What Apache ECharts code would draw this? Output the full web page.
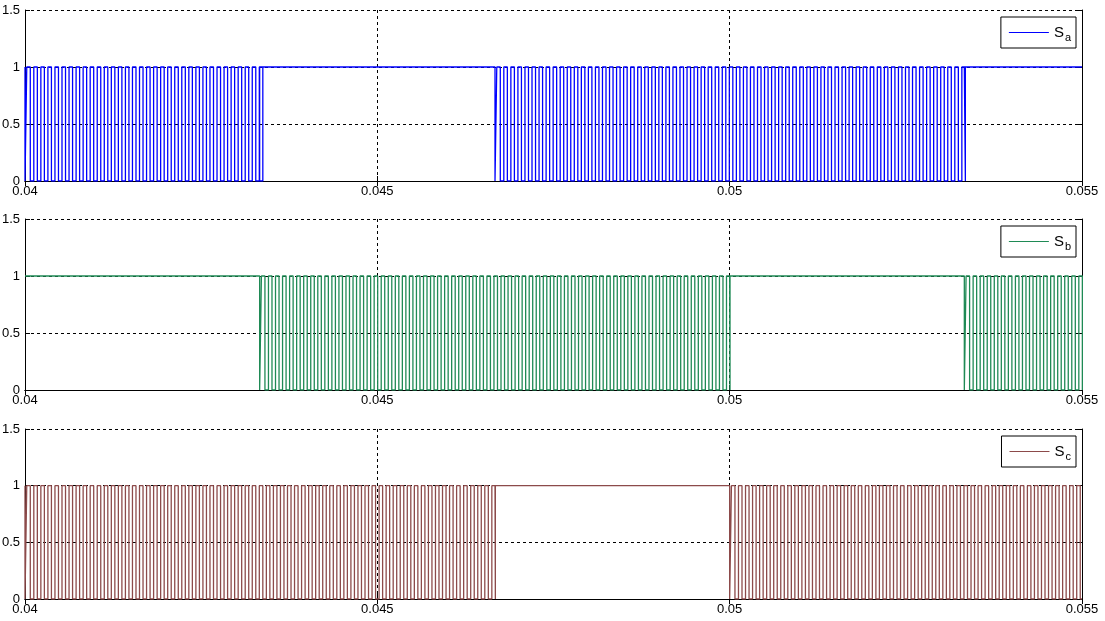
<!DOCTYPE html>
<html>
<head>
<meta charset="utf-8">
<script src="https://cdn.jsdelivr.net/npm/echarts@6/dist/echarts.min.js"></script>
<style>
  html, body { margin: 0; padding: 0; background: #fff; }
  #main { width: 1105px; height: 621px; }
</style>
</head>
<body>
<div id="main"></div>
<script>
const xTicks = [0.04, 0.045, 0.05, 0.055]
const yTicks = [0, 0.5, 1, 1.5]
const names = ['Sa', 'Sb', 'Sc']
const subs = ['a', 'b', 'c']
const colors = ['#0000ff', '#1f8a55', '#8c4a4a']

// carrier: one on/off period is about 7 px -> 0.1 ms
const carrier = 0.0001
const duty = 0.5
// switching bands of each gate signal, it sits at 1 outside of them
const saBands = [[0.04, 0.04333], [0.04667, 0.05333]]
const sbBands = [[0.04333, 0.05], [0.05333, 0.055]]
const scBands = [[0.04, 0.04667], [0.05, 0.055]]

const xMin = xTicks[0]
const xMax = xTicks[xTicks.length - 1]

// turn the bands into level changes, then into step points
function pulseTrain(bands) {
  const events = []
  bands.forEach(([a, b]) => {
    for (let k = 0; a + k * carrier < b - 1e-9; k++) {
      const t = a + k * carrier
      events.push([t, 0])
      events.push([t + carrier * (1 - duty) / 2, 1])
      events.push([t + carrier * (1 + duty) / 2, 0])
    }
    if (b < xMax) events.push([b, 1])
  })
  const pts = []
  let level = 1
  pts.push([xMin, level])
  events.forEach(([t, v]) => {
    if (v === level) return
    pts.push([t, level])
    pts.push([t, v])
    level = v
  })
  pts.push([xMax, level])
  return pts
}

const bandsList = [saBands, sbBands, scBands]
const gridTops = [10, 219, 429]
const gridHeights = [171, 171, 170]
const legendTops = [17, 226, 436]

const chart = echarts.init(document.getElementById('main'))

const black = '#000'
const fontFamily = 'Liberation Sans, Arial, sans-serif'
const labelFont = { color: black, fontSize: 13, fontFamily }

const grid = gridTops.map((top, i) => ({
  left: 25, right: 23, top, height: gridHeights[i],
  containLabel: false, outerBoundsMode: 'none'
}))
const xAxis = []
const yAxis = []
gridTops.forEach((_, i) => {
  xAxis.push({
    type: 'value', gridIndex: i, min: xMin, max: xMax, interval: 0.005,
    axisLine: { lineStyle: { color: black, width: 1 } },
    axisTick: { inside: true, length: 5, lineStyle: { color: black } },
    axisLabel: Object.assign({ margin: 4, formatter: v => String(+v.toFixed(3)) }, labelFont),
    splitLine: { show: true, lineStyle: { color: black, type: [3, 3], width: 1 } }
  })
  xAxis.push({
    type: 'value', gridIndex: i, position: 'top', min: xMin, max: xMax, interval: 0.005,
    axisLine: { lineStyle: { color: black, width: 1 } },
    axisTick: { inside: true, length: 5, lineStyle: { color: black } },
    axisLabel: { show: false },
    splitLine: { show: false }
  })
  yAxis.push({
    type: 'value', gridIndex: i, min: yTicks[0], max: yTicks[yTicks.length - 1], interval: 0.5,
    axisLine: { show: true, lineStyle: { color: black, width: 1 } },
    axisTick: { show: true, inside: true, length: 5, lineStyle: { color: black } },
    axisLabel: Object.assign({ margin: 5, formatter: v => String(v) }, labelFont),
    splitLine: { show: true, lineStyle: { color: black, type: [3, 3], width: 1 } }
  })
  yAxis.push({
    type: 'value', gridIndex: i, position: 'right', min: yTicks[0], max: yTicks[yTicks.length - 1], interval: 0.5,
    axisLine: { show: true, lineStyle: { color: black, width: 1 } },
    axisTick: { show: true, inside: true, length: 5, lineStyle: { color: black } },
    axisLabel: { show: false },
    splitLine: { show: false }
  })
})

const legend = names.map((n, i) => ({
  data: [n],
  right: 29,
  top: legendTops[i],
  selectedMode: false,
  backgroundColor: '#fff',
  borderColor: black,
  borderWidth: 1,
  borderRadius: 0,
  padding: [5, 5, 5, 8],
  icon: 'rect',
  itemWidth: 40,
  itemHeight: 1,
  itemGap: 5,
  formatter: () => '{s|S}{sub|' + subs[i] + '}',
  textStyle: {
    rich: {
      s: { fontSize: 15, color: black, fontFamily, lineHeight: 18 },
      sub: { fontSize: 11, color: black, fontFamily, lineHeight: 18, padding: [10, 0, 0, 1] }
    }
  }
}))

const series = names.map((n, i) => ({
  name: n,
  type: 'line',
  xAxisIndex: i * 2,
  yAxisIndex: i * 2,
  data: pulseTrain(bandsList[i]),
  showSymbol: false,
  symbol: 'none',
  silent: true,
  color: colors[i],
  lineStyle: { color: colors[i], width: 1.3 }
}))

chart.setOption({
  animation: false,
  backgroundColor: '#fff',
  grid,
  xAxis,
  yAxis,
  legend,
  series
})
</script>
</body>
</html>
